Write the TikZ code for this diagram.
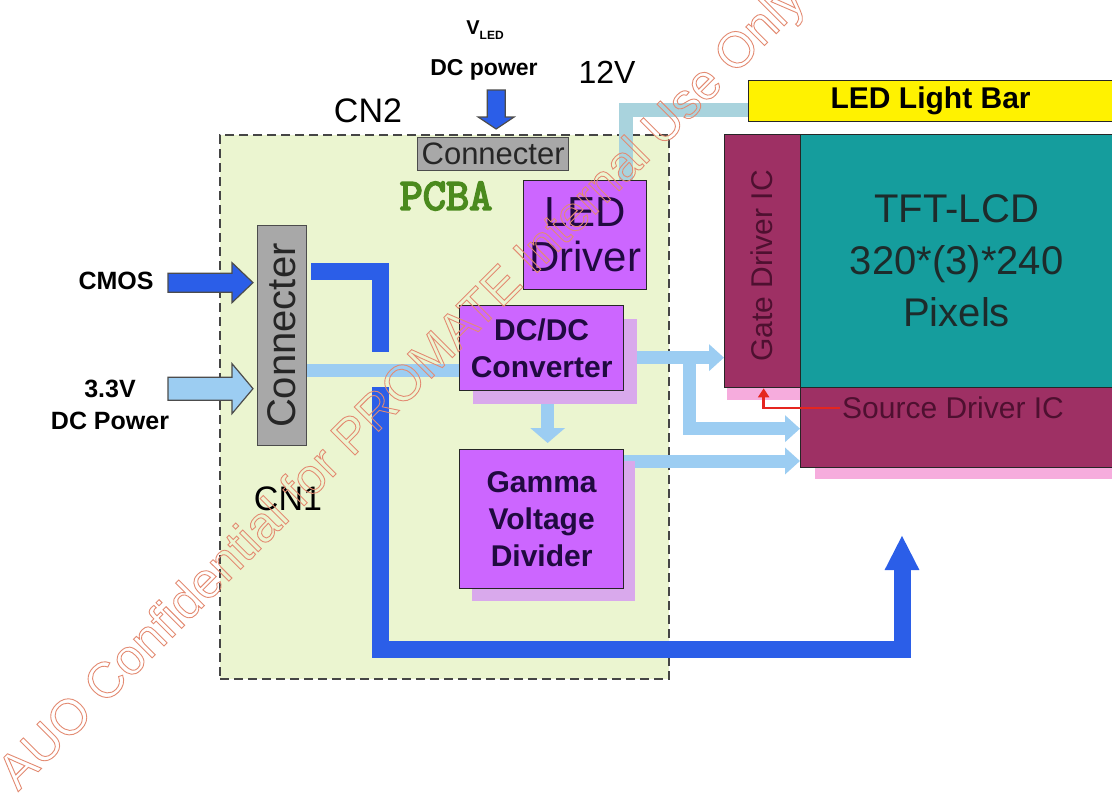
\documentclass[tikz,border=0pt]{standalone}
\usepackage{fontspec}
\setmainfont{Liberation Sans}
\usetikzlibrary{arrows.meta,calc}
\newcommand{\setfs}[2]{\fontsize{#1}{#2}\selectfont}
\definecolor{pcbabg}{HTML}{EBF5D0}
\definecolor{dashc}{HTML}{454545}
\definecolor{grayc}{HTML}{A8A8A8}
\definecolor{violetc}{HTML}{CC66FF}
\definecolor{shadowc}{HTML}{D9A9EC}
\definecolor{darkblue}{HTML}{2B5EE8}
\definecolor{lightblue}{HTML}{9CCDF2}
\definecolor{ledlinec}{HTML}{A9D3DD}
\definecolor{teal2}{HTML}{159D9D}
\definecolor{maroon2}{HTML}{9E3064}
\definecolor{pinkc}{HTML}{F6ACDD}
\definecolor{redc}{HTML}{E5261F}
\definecolor{pcbagreen}{HTML}{4B8A1E}
\definecolor{wmc}{HTML}{E38B72}
\definecolor{txtmaroon}{HTML}{4E1030}
\definecolor{boxtext}{HTML}{200A40}
\definecolor{tfttext}{HTML}{1D2B2B}
\begin{document}
\begin{tikzpicture}[x=1pt,y=-1pt,
  box/.style={draw=black!85, line width=1.3pt, inner sep=0pt, anchor=north west},
  vbox/.style={box, fill=violetc, text=boxtext, align=center},
  gbox/.style={box, fill=grayc, draw=black!70, text=black!85},
  lbline/.style={draw=lightblue, line width=13pt},
  lbarrow/.style={lbline, -{Triangle[width=26pt,length=15pt]}},
  bigblue/.style={draw=darkblue, line width=17pt},
  blockarrow/.style={draw=black!70, line width=1.2pt, line join=miter},
  lbl/.style={inner sep=0pt, text=black},
]
\useasboundingbox (0,0) rectangle (1112,796);
\fill[white] (0,0) rectangle (1112,796);

% PCBA board
\node[box, draw=dashc, line width=2.4pt, dash pattern=on 9pt off 5pt, fill=pcbabg,
      minimum width=449, minimum height=544] (pcba) at (219,134) {};
\node[lbl, font=\setfs{45}{48}\ttfamily, text=pcbagreen] (pcbalbl) at (446,196)
  {\special{pdf:literal direct 2 Tr 1.8 w}PCBA\special{pdf:literal direct 0 Tr}};

% connectors
\node[gbox, minimum width=151, minimum height=33, font=\setfs{31}{34}] (conn2) at (417,137) {Connecter};
\node[gbox, minimum width=49, minimum height=220] (conn1) at (257,225) {};
\node[lbl, rotate=90, font=\setfs{40}{44}, text=black!85] (conn1t) at (conn1.center) {Connecter};

% top labels
\node[lbl, font=\bfseries] (vled) at (485,30) {\setfs{20}{24}V\raisebox{-5pt}{\setfs{12}{14}LED}};
\node[lbl, font=\setfs{23}{26}\bfseries] (dcp) at (484,70) {DC power};
\node[lbl, font=\setfs{32}{36}] (v12) at (607,72) {12V};
\node[lbl, font=\setfs{34}{38}] (cn2) at (368,111) {CN2};
\node[lbl, font=\setfs{34}{38}] (cn1) at (288,499) {CN1};
\node[lbl, font=\setfs{25}{30}\bfseries] (cmos) at (116,281) {CMOS};
\node[lbl, font=\setfs{25}{32}\bfseries, align=center] (pwr) at (110,405) {3.3V\\DC Power};

% VLED arrow
\coordinate (vtip) at ($(conn2.north)+(3,-8)$);
\draw[blockarrow, fill=darkblue] (vtip) -- ++(-18,-12) -- ++(9,0) -- ++(0,-27) -- ++(18,0) -- ++(0,27) -- ++(9,0) -- cycle;

% CMOS and 3.3V arrows
\coordinate (cmostip) at ($(conn1.west)+(-4,-53)$);
\draw[blockarrow, fill=darkblue] (cmostip) -- ++(-21,-20) -- ++(0,10.5) -- ++(-64,0) -- ++(0,19) -- ++(64,0) -- ++(0,10.5) -- cycle;
\coordinate (pwrtip) at ($(conn1.west)+(-4,53)$);
\draw[blockarrow, fill=lightblue] (pwrtip) -- ++(-21,-25) -- ++(0,13.5) -- ++(-64,0) -- ++(0,23) -- ++(64,0) -- ++(0,13.5) -- cycle;

% LCD module
\fill[pinkc] (727,387) rectangle (800,400);
\fill[pinkc] (815,467) rectangle (1112,479);
\node[box, fill=maroon2, minimum width=76, minimum height=253] (gate) at (724,134) {};
\node[box, fill=teal2, minimum width=312, minimum height=253, align=center,
      font=\setfs{40}{52}, text=tfttext] (tft) at (800,134) {TFT-LCD\\320*(3)*240\\Pixels};
\node[box, fill=maroon2, minimum width=312, minimum height=80] (source) at (800,387) {};
\node[inner sep=2pt, anchor=west, font=\setfs{30}{34}, text=txtmaroon] (srctext) at (840,408) {Source Driver IC};
\node[lbl, rotate=90, font=\setfs{30}{34}, text=txtmaroon] (gatetext) at (762,266) {Gate Driver IC};
\node[box, fill=yellow, minimum width=364, minimum height=41, font=\setfs{30}{34}\bfseries] (ledbar) at (748,80) {LED Light Bar};

% DC/DC and Gamma box positions (needed by connectors)
\node[box, draw=none, minimum width=164, minimum height=85] (dcdcpos) at (459,305) {};
\node[box, draw=none, minimum width=164, minimum height=139] (gammapos) at (459,449) {};

% thick blue signal path
\coordinate (blA) at ($(conn1.north east)+(4,46)$);
\coordinate (blB) at (380,352);
\draw[bigblue] (blA) -| (blB);
\coordinate (blC) at (380,387);
\coordinate (blD) at (902,649);
\coordinate (blE) at (902,535);
\draw[bigblue, -{Triangle[width=32pt,length=35pt]}] (blC) |- (blD) -- (blE);

% light blue power paths
\coordinate (lbA) at ($(conn1.east)+(0,35)$);
\draw[lbline] (lbA) -- (lbA -| dcdcpos.west);
\coordinate (lbB) at ($(dcdcpos.east)+(0,9.5)$);
\draw[lbarrow] (lbB) -- (lbB -| gate.west);
\coordinate (lbBr) at ($(lbB)+(65,0)$);
\coordinate (lbS1) at ($(source.west)+(0,1)$);
\draw[lbarrow] (lbBr) |- (lbS1);
\coordinate (lbC) at ($(gammapos.north east)+(0,12)$);
\draw[lbarrow] (lbC) -- (lbC -| source.west);
\draw[lbarrow, -{Triangle[width=34pt,length=15pt]}] ($(dcdcpos.south)+(6,0)$) -- ($(gammapos.north)+(6,-6)$);

% shadows and boxes
\fill[shadowc] ($(dcdcpos.north west)+(14,14)$) rectangle ($(dcdcpos.south east)+(13,13)$);
\fill[shadowc] ($(gammapos.north west)+(13,12)$) rectangle ($(gammapos.south east)+(11,12)$);
\node[vbox, minimum width=164, minimum height=85, font=\setfs{30}{37}\bfseries] (dcdc) at (459,305) {DC/DC\\Converter};
\node[vbox, minimum width=164, minimum height=139, font=\setfs{30}{37}\bfseries] (gamma) at (459,449) {Gamma\\Voltage\\Divider};
\node[vbox, minimum width=123, minimum height=109, font=\setfs{42}{45}] (led) at (523,180) {LED\\Driver};

% LED driver to light bar
\coordinate (ledtap) at ($(led.north east)+(-21,0)$);
\coordinate (ledin) at ($(ledbar.west)+(0,9)$);
\draw[draw=ledlinec, line width=14pt] (ledtap) |- (ledin);

% red signal from source driver to gate driver
\draw[draw=redc, line width=2.8pt, -{Triangle[width=11pt,length=9pt]}] (srctext.west) -| ($(gate.south)+(1,0)$);

% watermark
\node[anchor=base west, rotate=45, inner sep=0pt, text=wmc, font=\setfs{50}{54}] (wm) at (18,792)
  {\special{pdf:literal direct 1 Tr 0.9 w}AUO Confidential for PROMATE Internal Use Only\special{pdf:literal direct 0 Tr}};
\end{tikzpicture}
\end{document}
